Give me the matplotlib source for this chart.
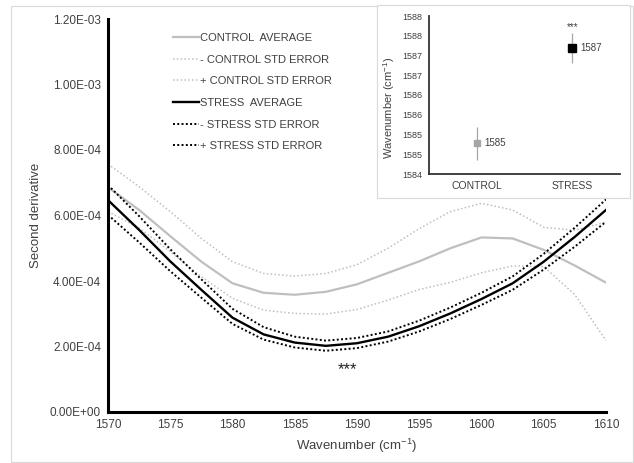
import matplotlib
matplotlib.use("Agg")
import matplotlib.pyplot as plt
from matplotlib.patches import Rectangle

plt.rcParams['font.family'] = ['Liberation Sans', 'DejaVu Sans']
plt.rcParams['mathtext.fontset'] = 'custom'
plt.rcParams['mathtext.rm'] = 'Liberation Sans'
plt.rcParams['mathtext.it'] = 'Liberation Sans'

# ---- main chart data (second derivative, x1e-4) ----
wavenumber = [1570, 1572.5, 1575, 1577.5, 1580, 1582.5, 1585, 1587.5, 1590,
              1592.5, 1595, 1597.5, 1600, 1602.5, 1605, 1607.5, 1610]
control_avg = [6.86, 6.17, 5.37, 4.59, 3.93, 3.64, 3.58, 3.67, 3.90,
               4.25, 4.60, 5.00, 5.33, 5.30, 4.95, 4.47, 3.95]
control_minus = [6.12, 5.62, 4.90, 4.13, 3.47, 3.11, 3.01, 2.99, 3.13,
                 3.42, 3.74, 3.96, 4.25, 4.46, 4.44, 3.58, 2.18]
control_plus = [7.57, 6.88, 6.12, 5.30, 4.59, 4.23, 4.15, 4.23, 4.50,
                5.00, 5.60, 6.12, 6.37, 6.17, 5.64, 5.55, 5.80]
stress_avg = [6.47, 5.56, 4.60, 3.73, 2.88, 2.37, 2.12, 2.02, 2.10,
              2.30, 2.62, 3.01, 3.45, 3.93, 4.59, 5.35, 6.17]
stress_minus = [6.02, 5.18, 4.30, 3.49, 2.69, 2.21, 1.97, 1.87, 1.95,
                2.15, 2.46, 2.84, 3.27, 3.73, 4.35, 5.05, 5.81]
stress_plus = [6.93, 5.98, 4.97, 4.05, 3.15, 2.59, 2.30, 2.18, 2.26,
               2.46, 2.79, 3.19, 3.64, 4.14, 4.83, 5.63, 6.49]
scale = 1e-4

y_ticks = [0, 2e-4, 4e-4, 6e-4, 8e-4, 1e-3, 1.2e-3]
y_ticklabels = ["0.00E+00", "2.00E-04", "4.00E-04", "6.00E-04", "8.00E-04", "1.00E-03", "1.20E-03"]
x_ticks = [1570, 1575, 1580, 1585, 1590, 1595, 1600, 1605, 1610]

legend_labels = ["CONTROL  AVERAGE", "- CONTROL STD ERROR", "+ CONTROL STD ERROR",
                 "STRESS  AVERAGE", "- STRESS STD ERROR", "+ STRESS STD ERROR"]

# ---- inset data ----
inset_groups = ["CONTROL", "STRESS"]
inset_means = [1584.78, 1587.19]
inset_errs = [0.42, 0.38]
inset_value_labels = ["1585", "1587"]
inset_yticks = [1584, 1584.5, 1585, 1585.5, 1586, 1586.5, 1587, 1587.5, 1588]
inset_yticklabels = ["1584", "1585", "1585", "1586", "1586", "1587", "1587", "1588", "1588"]

GRAY = "#bfbfbf"
TXT = "#404040"

fig = plt.figure(figsize=(6.34, 4.63), dpi=100)

# outer chart border
fig.add_artist(Rectangle((11/634, 1/463), 622/634, 456/463, transform=fig.transFigure,
                         fill=False, edgecolor="#d9d9d9", linewidth=0.8))

ax = fig.add_axes([108/634, 1-412/463, (606-108)/634, (412-19)/463])
s = lambda v: [a * scale for a in v]
l1, = ax.plot(wavenumber, s(control_avg), color=GRAY, lw=1.6, solid_joinstyle='round')
l2, = ax.plot(wavenumber, s(control_minus), color=GRAY, lw=1.1, ls=(0, (1, 1.5)))
l3, = ax.plot(wavenumber, s(control_plus), color=GRAY, lw=1.1, ls=(0, (1, 1.5)))
l4, = ax.plot(wavenumber, s(stress_avg), color="black", lw=1.7, solid_joinstyle='round')
l5, = ax.plot(wavenumber, s(stress_minus), color="black", lw=1.4, ls=(0, (1, 1.2)))
l6, = ax.plot(wavenumber, s(stress_plus), color="black", lw=1.4, ls=(0, (1, 1.2)))

ax.set_xlim(1570, 1610)
ax.set_ylim(0, 1.2e-3)
ax.set_xticks(x_ticks)
ax.set_yticks(y_ticks)
ax.set_yticklabels(y_ticklabels)
ax.tick_params(length=0, labelsize=8.5, colors=TXT, pad=5)
for sp in ["top", "right"]:
    ax.spines[sp].set_visible(False)
for sp in ["left", "bottom"]:
    ax.spines[sp].set_linewidth(2.2)
    ax.spines[sp].set_color("black")
ax.set_xlabel("Wavenumber (cm$^{-1}$)", fontsize=9.5, color=TXT, labelpad=4)
ax.set_ylabel("Second derivative", fontsize=9.5, color=TXT, labelpad=6)
ax.text(1589.2, 1.28e-4, "***", fontsize=12, ha="center", va="center", color="#222222")

leg = ax.legend([l1, l2, l3, l4, l5, l6], legend_labels, loc="upper left",
                bbox_to_anchor=(173/634, 1-33/463), bbox_transform=fig.transFigure,
                frameon=False, fontsize=8, handlelength=2.3, handletextpad=0.1,
                labelspacing=1.05, borderpad=0, borderaxespad=0)
for t in leg.get_texts():
    t.set_color(TXT)

# inset box
fig.add_artist(Rectangle((377/634, 1-198/463), (630-377)/634, (198-5)/463,
                         transform=fig.transFigure, facecolor="white",
                         edgecolor="#d9d9d9", linewidth=0.8, zorder=5))

iax = fig.add_axes([429/634, 1-174/463, (620-429)/634, (174-16)/463], zorder=6)
iax.patch.set_alpha(0)
xs = list(range(len(inset_groups)))
colors = ["#a6a6a6", "black"]
sizes = [5.0, 5.5]
for xi, m, e, c, ms, lab in zip(xs, inset_means, inset_errs, colors, sizes, inset_value_labels):
    iax.errorbar([xi], [m], yerr=[e], fmt="s", color=c, ecolor="#a6a6a6",
                 elinewidth=0.9, capsize=0, markersize=ms)
    iax.text(xi + 0.08, m, lab, fontsize=7, va="center", ha="left", color=TXT)
iax.text(xs[1], inset_means[1] + inset_errs[1] + 0.15, "***", fontsize=7,
         ha="center", va="center", color=TXT)
iax.set_xlim(-0.5, 1.5)
iax.set_ylim(1584, 1588)
iax.set_xticks(xs)
iax.set_xticklabels(inset_groups)
iax.set_yticks(inset_yticks)
iax.set_yticklabels(inset_yticklabels)
iax.tick_params(length=0, colors=TXT)
iax.tick_params(axis="y", labelsize=6.5, pad=5)
iax.tick_params(axis="x", labelsize=7.5, pad=5)
for sp in ["top", "right"]:
    iax.spines[sp].set_visible(False)
for sp in ["left", "bottom"]:
    iax.spines[sp].set_linewidth(1.3)
    iax.spines[sp].set_color("#333333")
iax.set_ylabel("Wavenumber (cm$^{-1}$)", fontsize=8, color=TXT, labelpad=3)
iax.yaxis.set_label_coords(-0.17, 0.42)

fig.savefig("out.png", dpi=100)
